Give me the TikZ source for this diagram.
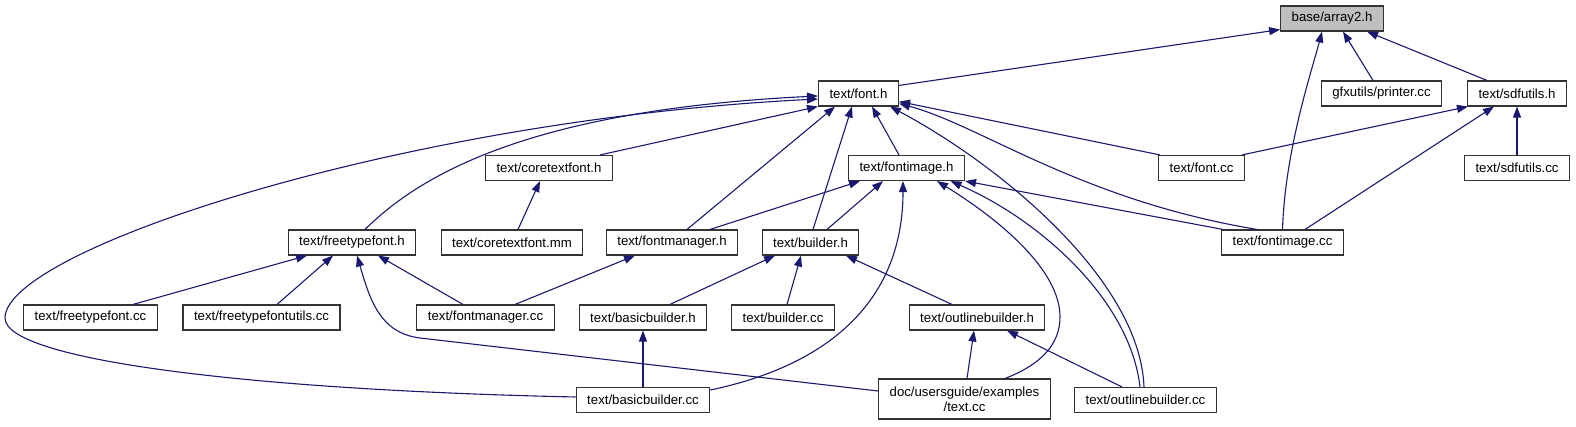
\documentclass[tikz,border=0pt]{standalone}
\usepackage{fontspec}
\setmainfont{Liberation Sans}
\usepackage{tikz}
\usetikzlibrary{arrows.meta}
\definecolor{edgeblue}{RGB}{25,25,112}
\tikzset{
  incfile/.style={draw=black!80, line width=1.1pt, fill=white,
    minimum height=25pt, inner xsep=11pt, inner ysep=0pt, align=center,
    font=\fontsize{13.2}{15}\selectfont},
  mainfile/.style={incfile, fill=black!25},
  inc/.style={{Triangle[length=11pt,width=8pt]}-, edgeblue, line width=1.1pt}
}

\begin{document}
\begin{tikzpicture}[x=1pt, y=-1pt]
  \useasboundingbox (0,0) rectangle (1576,427);

  % files, row by row
  \node[mainfile] (array2) at (1332,18.5) {base/array2.h};

  \node[incfile] (fonth) at (858.5,93.5) {text/font.h};
  \node[incfile] (printer) at (1381.5,93.5) {gfxutils/printer.cc};
  \node[incfile] (sdfh) at (1517,93.5) {text/sdfutils.h};

  \node[incfile] (coreh) at (549,168) {text/coretextfont.h};
  \node[incfile] (fimgh) at (906.5,168) {text/fontimage.h};
  \node[incfile] (fontcc) at (1201.5,168) {text/font.cc};
  \node[incfile] (sdfcc) at (1517,168) {text/sdfutils.cc};

  \node[incfile] (ftfh) at (352,242.5) {text/freetypefont.h};
  \node[incfile] (coremm) at (512,242.5) {text/coretextfont.mm};
  \node[incfile] (fmgrh) at (672,242.5) {text/fontmanager.h};
  \node[incfile] (builderh) at (810.5,242.5) {text/builder.h};
  \node[incfile] (fimgcc) at (1282.5,242.5) {text/fontimage.cc};

  \node[incfile] (ftfcc) at (90.5,317.5) {text/freetypefont.cc};
  \node[incfile] (ftfucc) at (261.5,317.5) {text/freetypefontutils.cc};
  \node[incfile] (fmgrcc) at (485.5,317.5) {text/fontmanager.cc};
  \node[incfile] (bbh) at (643,317.5) {text/basicbuilder.h};
  \node[incfile] (buildercc) at (783,317.5) {text/builder.cc};
  \node[incfile] (obh) at (977,317.5) {text/outlinebuilder.h};

  \node[incfile] (bbcc) at (643,400) {text/basicbuilder.cc};
  \node[incfile, minimum height=40pt] (doccc) at (964.5,399) {doc/usersguide/examples\\/text.cc};
  \node[incfile] (obcc) at (1145.5,400) {text/outlinebuilder.cc};

  % into base/array2.h
  \draw[inc] ([yshift=2pt]array2.south west) -- ([yshift=-5pt]fonth.north east);
  \draw[inc] ([xshift=-10pt]array2.south) .. controls (1312,70) and (1285,150) .. (fimgcc.north);
  \draw[inc] ([xshift=11pt]array2.south) -- ([xshift=-8.5pt]printer.north);
  \draw[inc] ([xshift=35pt]array2.south) -- ([xshift=-30pt]sdfh.north);

  % into text/font.h
  \draw[inc] ([yshift=-2.5pt]fonth.west) .. controls (530,110) and (420,175) .. ([xshift=13pt]ftfh.north);
  \draw[inc] ([yshift=-5.5pt]fonth.west) .. controls (400,120) and (5,250) .. (5,318)
    .. controls (5,360) and (250,390) .. ([yshift=3pt]bbcc.west);
  \draw[inc] (fonth.south west) -- ([xshift=51pt]coreh.north);
  \draw[inc] ([xshift=-23.5pt]fonth.south) -- ([xshift=15pt]fmgrh.north);
  \draw[inc] ([xshift=-6.5pt]fonth.south) -- ([xshift=2.5pt]builderh.north);
  \draw[inc] ([xshift=13.5pt]fonth.south) -- ([xshift=-7.5pt]fimgh.north);
  \draw[inc] ([xshift=31.5pt]fonth.south) .. controls (1000,165) and (1140,280) .. ([xshift=-1.5pt]obcc.north);
  \draw[inc] ([yshift=5pt]fonth.south east) -- ([xshift=2pt]fontcc.north west);
  \draw[inc] ([yshift=3pt]fonth.south east) .. controls (980,125) and (1080,200) .. ([xshift=-25.5pt]fimgcc.north);

  % into text/sdfutils.h
  \draw[inc] ([xshift=1pt]sdfh.south west) -- ([xshift=-3pt]fontcc.north east);
  \draw[inc] ([xshift=-23pt]sdfh.south) -- ([xshift=22.5pt]fimgcc.north);
  \draw[inc] (sdfh.south) -- (sdfcc.north);

  % into text/coretextfont.h
  \draw[inc] ([xshift=-9pt]coreh.south) -- ([xshift=6pt]coremm.north);

  % into text/fontimage.h
  \draw[inc] ([xshift=-46.5pt]fimgh.south) -- ([xshift=38pt]fmgrh.north);
  \draw[inc] ([xshift=-23.5pt]fimgh.south) -- ([xshift=16.5pt]builderh.north);
  \draw[inc] ([xshift=-3.5pt]fimgh.south) .. controls (903,300) and (830,365) .. ([yshift=10pt]bbcc.east);
  \draw[inc] ([xshift=30.5pt]fimgh.south) .. controls (1000,220) and (1060,270) .. (1060,317)
    .. controls (1060,345) and (1040,365) .. ([xshift=40.5pt]doccc.north);
  \draw[inc] ([xshift=44pt]fimgh.south) .. controls (1040,220) and (1130,300) .. ([xshift=-5.5pt]obcc.north);
  \draw[inc] (fimgh.south east) -- ([xshift=2pt]fimgcc.north west);

  % into text/freetypefont.h
  \draw[inc] ([xshift=-45pt]ftfh.south) -- ([xshift=42.5pt]ftfcc.north);
  \draw[inc] ([xshift=-19pt]ftfh.south) -- ([xshift=15.5pt]ftfucc.north);
  \draw[inc] ([xshift=26pt]ftfh.south) -- ([xshift=-22.5pt]fmgrcc.north);
  \draw[inc] ([xshift=5pt]ftfh.south) .. controls (370,300) and (380,333) .. (420,338) -- ([yshift=8pt]doccc.west);

  % into text/fontmanager.h, text/builder.h and below
  \draw[inc] ([xshift=-37pt]fmgrh.south) -- ([xshift=29.5pt]fmgrcc.north);
  \draw[inc] ([xshift=-35.5pt]builderh.south) -- ([xshift=27pt]bbh.north);
  \draw[inc] ([xshift=-9.5pt]builderh.south) -- ([xshift=4pt]buildercc.north);
  \draw[inc] ([xshift=35.5pt]builderh.south) -- ([xshift=-25pt]obh.north);
  \draw[inc] (bbh.south) -- (bbcc.north);
  \draw[inc] ([xshift=-3pt]obh.south) -- ([xshift=2.5pt]doccc.north);
  \draw[inc] ([xshift=30pt]obh.south) -- ([xshift=-23.5pt]obcc.north);
\end{tikzpicture}
\end{document}
